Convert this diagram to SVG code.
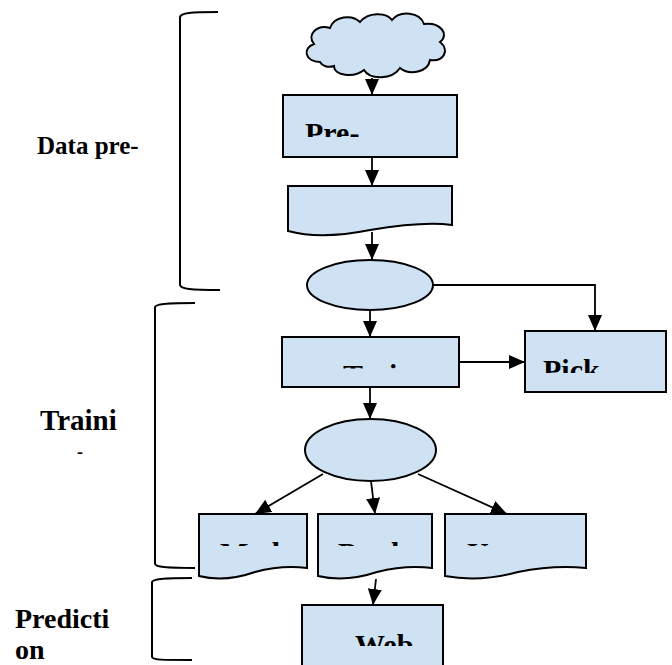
<svg xmlns="http://www.w3.org/2000/svg" width="672" height="665" viewBox="0 0 672 665">
<style>
.shape{fill:#cfe2f3;stroke:#000;stroke-width:2}
.conn{fill:none;stroke:#000;stroke-width:1.8}
.lbl{font-family:"Liberation Serif","Times New Roman",serif;font-weight:bold;fill:#000}
.nt{font-size:30px}
.brk{fill:none;stroke:#000;stroke-width:2}
</style>
<defs>
<marker id="ah" markerUnits="userSpaceOnUse" markerWidth="17" markerHeight="15" refX="16" refY="7" orient="auto">
<path d="M0,0 L16,7 L0,14 Z" fill="#000"/>
</marker>
<clipPath id="cPre"><rect x="284" y="96" width="172" height="41"/></clipPath>
<clipPath id="cTrain"><rect x="283" y="338" width="175" height="30.5"/></clipPath>
<clipPath id="cPick"><rect x="526" y="332" width="139" height="41"/></clipPath>
<clipPath id="cRow"><rect x="190" y="515" width="400" height="31"/></clipPath>
<clipPath id="cWeb"><rect x="303" y="606" width="139" height="40"/></clipPath>
</defs>

<g id="labels">
<text class="lbl" x="37" y="154" font-size="25">Data pre-</text>
<text class="lbl" x="40" y="430" font-size="29">Traini</text>
<text class="lbl" x="77" y="458" font-size="18">-</text>
<text class="lbl" x="15" y="628" font-size="28">Predicti</text>
<text class="lbl" x="15" y="659" font-size="28">on</text>
</g>

<g id="brackets">
<path class="brk" d="M218,12 C190,12 181,13 180,17 L180,285 C181,289 190,290 220,290"/>
<path class="brk" d="M195,303 C165,303 156,304 155,307 L155,564 C156,567 165,568 195,568"/>
<path class="brk" d="M192,578 C162,578 153,579 152,582 L152,657 C153,660 162,660 192,660"/>
</g>

<g id="connectors">
<line class="conn" x1="372" y1="78" x2="372" y2="95" marker-end="url(#ah)"/>
<line class="conn" x1="372" y1="157" x2="372" y2="186" marker-end="url(#ah)"/>
<line class="conn" x1="372" y1="232" x2="372" y2="260" marker-end="url(#ah)"/>
<line class="conn" x1="370" y1="310" x2="370" y2="337" marker-end="url(#ah)"/>
<path class="conn" d="M433,285 H595 V331" marker-end="url(#ah)"/>
<line class="conn" x1="459" y1="362" x2="525" y2="362" marker-end="url(#ah)"/>
<line class="conn" x1="370" y1="387" x2="370" y2="419" marker-end="url(#ah)"/>
<line class="conn" x1="323" y1="474" x2="255" y2="514" marker-end="url(#ah)"/>
<line class="conn" x1="371" y1="481" x2="375" y2="514" marker-end="url(#ah)"/>
<line class="conn" x1="418" y1="474" x2="507" y2="514" marker-end="url(#ah)"/>
<line class="conn" x1="376" y1="579" x2="373" y2="605" marker-end="url(#ah)"/>
</g>

<g id="cloud">
<path class="shape" d="M320,62 C305,62 302,48 314,44 C306,34 318,24 330,28 C334,16 352,14 360,22 C368,12 386,12 392,20 C400,10 420,12 424,24 C440,22 450,34 440,42 C450,50 444,62 430,60 C428,72 410,76 400,68 C392,80 370,80 364,70 C354,78 334,76 334,66 C328,68 322,66 320,62 Z"/>
</g>

<g id="pre">
<rect class="shape" x="283" y="95" width="174" height="62"/>
<text class="lbl nt" x="305" y="143" clip-path="url(#cPre)">Pre-</text>
</g>

<g id="doc1">
<path class="shape" d="M288,186 H452 V225 C430,222 400,225 370,230 C335,237 310,237 288,231 Z"/>
</g>

<g id="decision1">
<ellipse class="shape" cx="370" cy="285" rx="63" ry="25"/>
</g>

<g id="train">
<rect class="shape" x="282" y="337" width="177" height="50"/>
<text class="lbl nt" x="343" y="385" clip-path="url(#cTrain)">Train</text>
</g>

<g id="pick">
<rect class="shape" x="525" y="331" width="141" height="61"/>
<text class="lbl nt" x="543" y="380" clip-path="url(#cPick)">Pick</text>
</g>

<g id="decision2">
<ellipse class="shape" cx="370.5" cy="450" rx="65.5" ry="31"/>
</g>

<g id="docMod">
<path class="shape" d="M199,514 H307 V568 C290,566 270,568 255,572 C235,579 215,580 199,576 Z"/>
<text class="lbl nt" x="220" y="563" clip-path="url(#cRow)">Mod</text>
</g>

<g id="docPred">
<path class="shape" d="M318,514 H432 V568 C414,566 393,568 377,572 C356,579 335,580 318,576 Z"/>
<text class="lbl nt" x="338" y="563" clip-path="url(#cRow)">Pred</text>
</g>

<g id="docU">
<path class="shape" d="M445,514 H586 V568 C564,566 538,568 518,572 C492,579 466,580 445,576 Z"/>
<text class="lbl nt" x="467" y="563" clip-path="url(#cRow)">U</text>
</g>

<g id="web">
<rect class="shape" x="302" y="605" width="141" height="64"/>
<text class="lbl nt" x="355" y="655" clip-path="url(#cWeb)">Web</text>
</g>
</svg>
